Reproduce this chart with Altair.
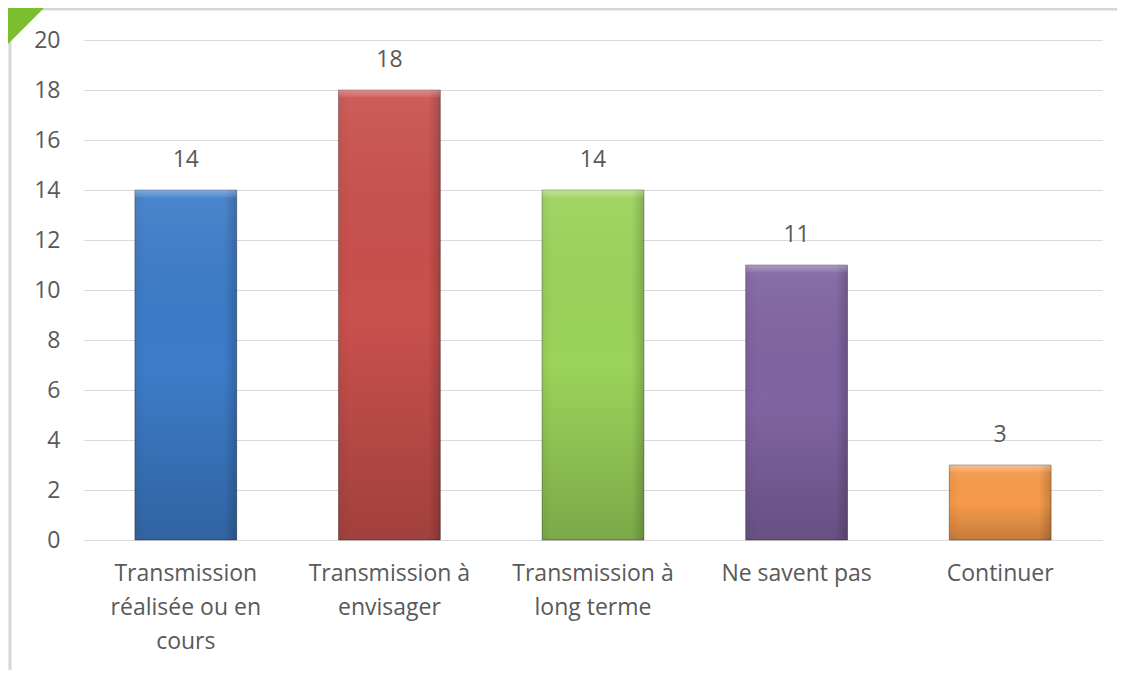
import altair as alt
import pandas as pd

categories = ["Transmission|réalisée ou en|cours", "Transmission à|envisager",
              "Transmission à|long terme", "Ne savent pas", "Continuer"]
values = [14, 18, 14, 11, 3]
colors = ["#3D7CC9", "#C9504D", "#9BD35A", "#8064A2", "#F79B4A"]

df = pd.DataFrame({"cat": categories, "val": values, "col": colors})
FONT = "Open Sans"
GREY = "#595959"
FS = 23

x = alt.X("cat:N", sort=categories, title=None,
          scale=alt.Scale(paddingInner=0.5, paddingOuter=0.25),
          axis=alt.Axis(labelExpr="split(datum.label, '|')", labelAngle=0,
                        labelFontSize=FS, labelColor=GREY, labelFont=FONT,
                        labelLineHeight=34, labelPadding=22, ticks=False,
                        domain=False, grid=False, labelLimit=300))
y = alt.Y("val:Q", title=None, scale=alt.Scale(domain=[0, 20]),
          axis=alt.Axis(values=list(range(0, 21, 2)), labelFontSize=FS, labelColor=GREY,
                        labelFont=FONT, labelPadding=24, ticks=False, domain=False,
                        gridColor="#D9D9D9", gridWidth=1.2))

base = alt.Chart(df)
bars = base.mark_bar(stroke="#00000055", strokeWidth=1).encode(
    x=x, y=y, color=alt.Color("col:N", scale=None, legend=None))
shade = base.mark_bar(color=alt.Gradient(
    gradient="linear", x1=0, y1=0, x2=0, y2=1,
    stops=[alt.GradientStop(color="rgba(255,255,255,0.08)", offset=0),
           alt.GradientStop(color="rgba(0,0,0,0)", offset=0.5),
           alt.GradientStop(color="rgba(0,0,0,0.2)", offset=1)])).encode(x=x, y=y)
side = base.mark_bar(color=alt.Gradient(
    gradient="linear", x1=0, y1=0, x2=1, y2=0,
    stops=[alt.GradientStop(color="rgba(0,0,0,0.05)", offset=0),
           alt.GradientStop(color="rgba(0,0,0,0)", offset=0.1),
           alt.GradientStop(color="rgba(0,0,0,0)", offset=0.88),
           alt.GradientStop(color="rgba(0,0,0,0.18)", offset=1)])).encode(x=x, y=y)
top = base.transform_calculate(v2="datum.val - 0.3").mark_bar(
    color=alt.Gradient(gradient="linear", x1=0, y1=0, x2=0, y2=1,
                       stops=[alt.GradientStop(color="rgba(255,255,255,0.3)", offset=0),
                              alt.GradientStop(color="rgba(255,255,255,0.05)", offset=1)])
).encode(x=x, y=y, y2="v2:Q")
labels = base.mark_text(dy=-30, fontSize=FS, font=FONT, color=GREY).encode(
    x=x, y=y, text="val:Q")

frame_l = alt.Chart(pd.DataFrame({"a": [0]})).mark_rule(color="#D6D6D6", strokeWidth=3).encode(
    x=alt.value(-74), y=alt.value(-32), y2=alt.value(640))
frame_t = alt.Chart(pd.DataFrame({"a": [0]})).mark_rule(color="#D6D6D6", strokeWidth=3).encode(
    x=alt.value(-74), x2=alt.value(1040), y=alt.value(-31))
tri = alt.Chart(pd.DataFrame({"a": [0]})).mark_point(
    shape="M -1 -1 L 1 -1 L -1 1 Z", filled=True, color="#7DBE2F", opacity=1, size=1300,
    strokeWidth=0).encode(x=alt.value(-58), y=alt.value(-14))

chart = alt.layer(frame_l, frame_t, tri, bars, shade, side, top, labels).properties(
    width=1018, height=500,
    background="white",
    autosize=alt.AutoSizeParams(type="none"),
    padding={"left": 76, "top": 32, "right": 15, "bottom": 130},
).configure_view(strokeWidth=0, stroke="transparent")

chart.save("out.html", embed_options={"renderer": "svg", "actions": False})
